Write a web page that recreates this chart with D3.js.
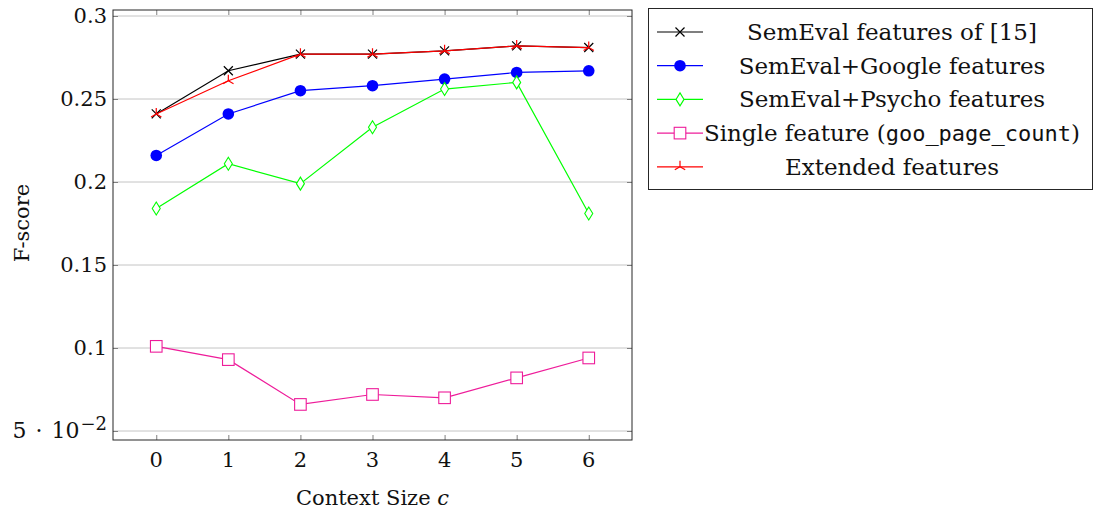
<!DOCTYPE html>
<html><head><meta charset="utf-8">
<script src="https://cdn.jsdelivr.net/npm/d3@7"></script>
<style>body{margin:0;background:#fff}svg{display:block}</style>
</head><body>
<svg id="c" width="1099" height="512"></svg>
<script>
const xValues = [0, 1, 2, 3, 4, 5, 6];
const semevalRef = [0.241, 0.267, 0.277, 0.277, 0.279, 0.282, 0.281];
const semevalGoogle = [0.216, 0.241, 0.255, 0.258, 0.262, 0.266, 0.267];
const semevalPsycho = [0.184, 0.211, 0.199, 0.233, 0.256, 0.260, 0.181];
const singleFeature = [0.101, 0.093, 0.066, 0.072, 0.070, 0.082, 0.094];
const extended = [0.241, 0.261, 0.277, 0.277, 0.279, 0.282, 0.281];
const yTicks = [0.05, 0.1, 0.15, 0.2, 0.25, 0.3];
const yTickLabels = ["5·10^-2", "0.1", "0.15", "0.2", "0.25", "0.3"];
const seriesNames = ["SemEval features of [15]", "SemEval+Google features", "SemEval+Psycho features", "Single feature (", "Extended features"];

const series = [
  {name: seriesNames[0], values: semevalRef, color: "#000000", mark: "x"},
  {name: seriesNames[1], values: semevalGoogle, color: "#0000ff", mark: "circle"},
  {name: seriesNames[2], values: semevalPsycho, color: "#00ff00", mark: "diamond"},
  {name: seriesNames[3], values: singleFeature, color: "#ee1c9a", mark: "square"},
  {name: seriesNames[4], values: extended, color: "#ff0000", mark: "tri"}
];

const svg = d3.select("#c");
const L = 113, R = 632, T = 10, B = 440;
const x = d3.scaleLinear().domain([-0.6, 6.6]).range([L, R]);
const y = d3.scaleLinear().domain([0.05, 0.3]).range([431, 16]);
const fontF = "DejaVu Serif";
const fs = 21;

svg.append("g").selectAll("line").data(yTicks).join("line")
  .attr("x1", L).attr("x2", R).attr("y1", d => y(d)).attr("y2", d => y(d))
  .attr("stroke", "#c4c4c4").attr("stroke-width", 1);

const tickCol = "#808080";
const gl = svg.append("g").attr("transform", `translate(${L},0)`)
  .call(d3.axisRight(y).tickValues(yTicks).tickSize(5).tickFormat(""));
const gr = svg.append("g").attr("transform", `translate(${R},0)`)
  .call(d3.axisLeft(y).tickValues(yTicks).tickSize(5).tickFormat(""));
const gb = svg.append("g").attr("transform", `translate(0,${B})`)
  .call(d3.axisTop(x).tickValues(xValues).tickSize(5).tickFormat(""));
const gt = svg.append("g").attr("transform", `translate(0,${T})`)
  .call(d3.axisBottom(x).tickValues(xValues).tickSize(5).tickFormat(""));
[gl, gr, gb, gt].forEach(g => { g.select(".domain").remove(); g.selectAll("line").attr("stroke", tickCol); });

svg.append("rect").attr("x", L).attr("y", T).attr("width", R - L).attr("height", B - T)
  .attr("fill", "none").attr("stroke", "#262626").attr("stroke-width", 1);

const ylab = svg.append("g").attr("font-family", fontF).attr("font-size", fs).attr("fill", "#111");
yTicks.forEach((v, i) => {
  const lab = yTickLabels[i];
  const t = ylab.append("text").attr("x", L - 6).attr("y", y(v)).attr("dy", "0.35em").attr("text-anchor", "end");
  if (lab.includes("^")) {
    const [base, exp] = lab.split("^");
    const [m, p] = base.split("·");
    t.append("tspan").attr("font-size", 22).text(m);
    t.append("tspan").attr("dx", 9).attr("font-size", 22).text("·");
    t.append("tspan").attr("dx", 9).attr("font-size", 22).text(p);
    t.append("tspan").attr("dx", 1).attr("dy", "-0.45em").attr("font-size", 18).text(exp.replace("-", "−"));
  } else t.text(lab);
});

svg.append("g").attr("font-family", fontF).attr("font-size", fs).attr("fill", "#111")
  .selectAll("text").data(xValues).join("text")
  .attr("x", d => x(d)).attr("y", 467).attr("text-anchor", "middle").text(d => d);

const xt = svg.append("text").attr("x", x(3)).attr("y", 505).attr("text-anchor", "middle")
  .attr("font-family", fontF).attr("font-size", fs).attr("fill", "#111");
xt.append("tspan").text("Context Size ");
xt.append("tspan").attr("font-style", "italic").text("c");
svg.append("text").attr("transform", `translate(29,${(T + B) / 2 - 2}) rotate(-90)`)
  .attr("text-anchor", "middle").attr("font-family", fontF).attr("font-size", fs).attr("fill", "#111").text("F-score");

function drawMark(g, mark, cx, cy, color) {
  if (mark === "x") {
    g.append("path").attr("d", `M${cx-4.5},${cy-4.5}L${cx+4.5},${cy+4.5}M${cx-4.5},${cy+4.5}L${cx+4.5},${cy-4.5}`)
      .attr("stroke", color).attr("stroke-width", 1.2).attr("fill", "none");
  } else if (mark === "circle") {
    g.append("circle").attr("cx", cx).attr("cy", cy).attr("r", 5.8).attr("fill", color);
  } else if (mark === "diamond") {
    g.append("path").attr("d", `M${cx},${cy-6.5}L${cx+4},${cy}L${cx},${cy+6.5}L${cx-4},${cy}Z`)
      .attr("stroke", color).attr("stroke-width", 1.1).attr("fill", "#fff");
  } else if (mark === "square") {
    g.append("rect").attr("x", cx - 5.8).attr("y", cy - 5.8).attr("width", 11.6).attr("height", 11.6)
      .attr("stroke", color).attr("stroke-width", 1.1).attr("fill", "#fff");
  } else if (mark === "tri") {
    g.append("path").attr("d", `M${cx},${cy}L${cx},${cy-6}M${cx},${cy}L${cx-5.2},${cy+3}M${cx},${cy}L${cx+5.2},${cy+3}`)
      .attr("stroke", color).attr("stroke-width", 1.2).attr("fill", "none");
  }
}

const line = d3.line().x((d, i) => x(xValues[i])).y(d => y(d));
series.forEach(s => {
  const g = svg.append("g");
  g.append("path").datum(s.values).attr("d", line).attr("fill", "none")
    .attr("stroke", s.color).attr("stroke-width", 1.2);
  s.values.forEach((v, i) => drawMark(g, s.mark, x(xValues[i]), y(v), s.color));
});

const lg = svg.append("g");
lg.append("rect").attr("x", 648.5).attr("y", 8.5).attr("width", 444).attr("height", 181)
  .attr("fill", "#fff").attr("stroke", "#262626").attr("stroke-width", 1);
series.forEach((s, i) => {
  const cy = 32 + i * 33.7;
  lg.append("line").attr("x1", 657).attr("x2", 703).attr("y1", cy).attr("y2", cy)
    .attr("stroke", s.color).attr("stroke-width", 1.2);
  drawMark(lg, s.mark, 680, cy, s.color);
  const t = lg.append("text").attr("x", 892).attr("y", cy).attr("dy", "0.35em").attr("text-anchor", "middle")
    .attr("font-family", fontF).attr("font-size", 23).attr("fill", "#111");
  if (i === 3) {
    t.append("tspan").text(s.name);
    t.append("tspan").attr("font-family", "DejaVu Sans Mono").attr("font-size", 22).text("goo_page_count");
    t.append("tspan").text(")");
  } else t.text(s.name);
});
</script>
</body></html>
